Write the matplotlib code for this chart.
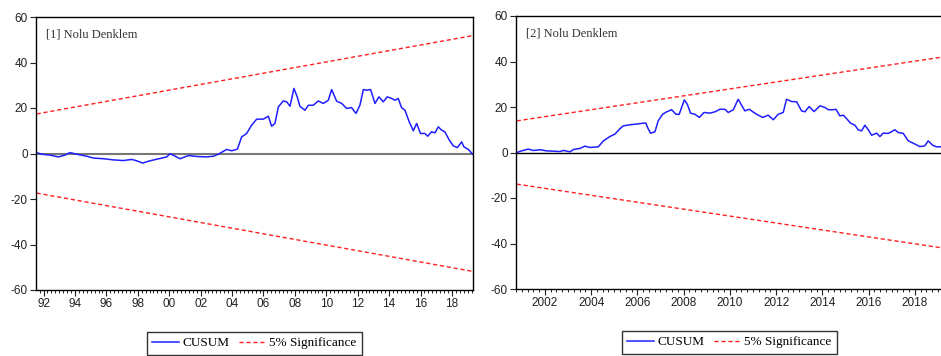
import matplotlib
matplotlib.use("Agg")
import matplotlib.pyplot as plt
from matplotlib.ticker import MultipleLocator, FixedLocator

# --- data (year, CUSUM value) ---
# panel 1 : [1] Nolu Denklem
yil1 = [1991.56, 1991.99, 1992.41, 1992.94, 1993.37, 1993.68, 1994.11, 1994.75, 1995.17, 1995.81,
        1996.44, 1997.08, 1997.61, 1997.93, 1998.31, 1998.78, 1999.41, 1999.84, 2000.05, 2000.30,
        2000.69, 2001.22, 2001.75, 2002.38, 2002.81, 2003.13, 2003.66, 2003.97, 2004.34, 2004.61,
        2004.93, 2005.25, 2005.57, 2005.99, 2006.31, 2006.52, 2006.73, 2006.95, 2007.26, 2007.48,
        2007.69, 2007.94, 2008.15, 2008.32, 2008.64, 2008.86, 2009.17, 2009.49, 2009.81, 2010.13,
        2010.34, 2010.66, 2010.98, 2011.30, 2011.61, 2011.89, 2012.14, 2012.36, 2012.57, 2012.82,
        2013.10, 2013.35, 2013.63, 2013.88, 2014.16, 2014.37, 2014.58, 2014.79, 2015.01, 2015.28,
        2015.54, 2015.75, 2016.00, 2016.28, 2016.45, 2016.70, 2016.92, 2017.13, 2017.34, 2017.55,
        2017.83, 2018.08, 2018.34, 2018.62, 2018.76, 2019.04, 2019.32]
cusum1 = [0.3, -0.4, -0.7, -1.5, -0.7, 0.4, -0.3, -1.2, -2.0, -2.3,
          -2.8, -3.1, -2.6, -3.2, -4.2, -3.2, -2.2, -1.5, -0.1, -0.9,
          -2.3, -0.9, -1.3, -1.5, -1.2, -0.3, 1.8, 1.2, 1.9, 7.3,
          8.8, 12.5, 15.1, 15.1, 16.4, 12.0, 13.2, 20.5, 23.1, 22.7,
          20.8, 28.6, 24.9, 20.8, 19.0, 21.2, 21.2, 23.1, 22.0, 23.4,
          28.1, 23.0, 22.0, 19.8, 20.2, 17.6, 21.2, 28.1, 27.8, 28.1,
          22.0, 24.9, 22.7, 24.9, 24.2, 23.4, 24.2, 20.2, 19.0, 13.9,
          10.0, 13.2, 8.8, 8.8, 7.6, 9.5, 9.1, 11.7, 10.3, 9.5,
          5.9, 3.4, 2.6, 5.1, 2.9, 1.8, -0.3]
sinir_yil1 = [1991.56, 2019.32]
sinir1 = [17.4, 51.8]

# panel 2 : [2] Nolu Denklem
yil2 = [2000.78, 2000.99, 2001.28, 2001.50, 2001.79, 2002.08, 2002.36, 2002.65, 2002.80, 2003.09,
        2003.23, 2003.52, 2003.73, 2003.95, 2004.31, 2004.53, 2004.81, 2005.03, 2005.25, 2005.39,
        2005.68, 2005.97, 2006.26, 2006.37, 2006.44, 2006.57, 2006.76, 2006.90, 2007.09, 2007.27,
        2007.48, 2007.67, 2007.81, 2008.03, 2008.16, 2008.30, 2008.49, 2008.68, 2008.88, 2009.14,
        2009.36, 2009.57, 2009.79, 2009.93, 2010.15, 2010.36, 2010.65, 2010.84, 2011.04, 2011.16,
        2011.42, 2011.66, 2011.88, 2012.09, 2012.31, 2012.45, 2012.67, 2012.89, 2013.10, 2013.25,
        2013.43, 2013.64, 2013.90, 2014.11, 2014.26, 2014.47, 2014.59, 2014.76, 2014.91, 2015.05,
        2015.22, 2015.41, 2015.55, 2015.70, 2015.84, 2015.99, 2016.13, 2016.35, 2016.49, 2016.63,
        2016.85, 2016.99, 2017.14, 2017.28, 2017.50, 2017.72, 2017.93, 2018.22, 2018.43, 2018.58,
        2018.77, 2018.94, 2019.13]
cusum2 = [0.0, 0.7, 1.5, 0.9, 1.2, 0.7, 0.6, 0.4, 0.9, 0.3,
          1.3, 1.8, 2.8, 2.2, 2.5, 5.1, 7.0, 8.1, 10.5, 11.7,
          12.2, 12.5, 12.9, 12.9, 11.0, 8.5, 9.1, 13.9, 16.8, 17.9,
          18.8, 16.8, 16.8, 23.1, 21.2, 17.3, 16.8, 15.4, 17.6, 17.3,
          17.9, 19.0, 19.0, 17.6, 18.8, 23.4, 18.3, 19.0, 17.6, 16.8,
          15.4, 16.4, 14.4, 16.8, 17.6, 23.4, 22.4, 22.3, 18.3, 17.9,
          20.2, 18.0, 20.5, 19.8, 18.8, 18.8, 19.0, 16.1, 16.4, 14.9,
          12.9, 12.0, 10.0, 9.5, 12.0, 10.0, 7.6, 8.5, 7.0, 8.5,
          8.4, 9.1, 10.0, 8.8, 8.4, 5.1, 4.1, 2.6, 2.9, 5.1,
          3.2, 2.5, 2.5]
sinir_yil2 = [2000.78, 2019.22]
sinir2 = [13.9, 42.0]

etiket1 = ["92", "94", "96", "98", "00", "02", "04", "06", "08", "10", "12", "14", "16", "18"]
etiket_yil1 = [1992, 1994, 1996, 1998, 2000, 2002, 2004, 2006, 2008, 2010, 2012, 2014, 2016, 2018]
etiket2 = ["2002", "2004", "2006", "2008", "2010", "2012", "2014", "2016", "2018"]
etiket_yil2 = [2002, 2004, 2006, 2008, 2010, 2012, 2014, 2016, 2018]

plt.rcParams['font.family'] = ['Liberation Sans', 'DejaVu Sans']
plt.rcParams['axes.unicode_minus'] = False  # eviews uses a plain hyphen
fig = plt.figure(figsize=(9.41, 3.56), dpi=100)
W, H = 941, 356


def panel(rect, xlim, yil, cusum, s_yil, s_val, ticks, labels, baslik, sifir_renk, sifir_lw):
    l, r, t, b = rect
    ax = fig.add_axes([l / W, 1 - b / H, (r - l) / W, (b - t) / H])
    ax.plot(yil, cusum, color='#1f1fff', lw=1.1, label='CUSUM')
    ax.plot(s_yil, s_val, color='#ff2020', lw=1.0, ls=(0, (3, 2)), label='5% Significance')
    ax.plot(s_yil, [-v for v in s_val], color='#ff2020', lw=1.0, ls=(0, (3, 2)))
    ax.axhline(0, color=sifir_renk, lw=sifir_lw, zorder=1)
    ax.set_xlim(*xlim)
    ax.set_ylim(-60, 60)
    ax.yaxis.set_major_locator(MultipleLocator(20))
    ax.xaxis.set_major_locator(FixedLocator(ticks))
    ax.set_xticklabels(labels)
    ax.xaxis.set_minor_locator(MultipleLocator(0.25))
    ax.tick_params(axis='both', which='major', direction='out', length=4, width=0.8,
                   labelsize=8.5, colors='#222222', pad=2)
    ax.tick_params(axis='x', which='minor', direction='out', length=2, width=0.6)
    ax.tick_params(axis='y', which='minor', left=False)
    for s in ax.spines.values():
        s.set_linewidth(1.0)
        s.set_color('black')
    ax.text(0.023, 0.935, baslik, transform=ax.transAxes, fontsize=9, color='#333333',
            family=['Liberation Serif'], va='center', ha='left')
    leg = ax.legend(loc='upper center', bbox_to_anchor=(0.5, -0.153), ncol=2, frameon=True,
                    fancybox=False, edgecolor='black', prop={'family': 'Liberation Serif', 'size': 9.5},
                    handlelength=2.0, handletextpad=0.3, columnspacing=0.7, borderpad=0.4,
                    borderaxespad=0)
    leg.get_frame().set_linewidth(1.0)
    return ax


panel((36, 473, 17, 290), (1991.52, 2019.34), yil1, cusum1, sinir_yil1, sinir1,
      etiket_yil1, etiket1, '[1] Nolu Denklem', '#777777', 1.5)
panel((516, 943, 16, 289), (2000.75, 2019.22), yil2, cusum2, sinir_yil2, sinir2,
      etiket_yil2, etiket2, '[2] Nolu Denklem', 'black', 1.0)

fig.savefig('out.png', dpi=100)
